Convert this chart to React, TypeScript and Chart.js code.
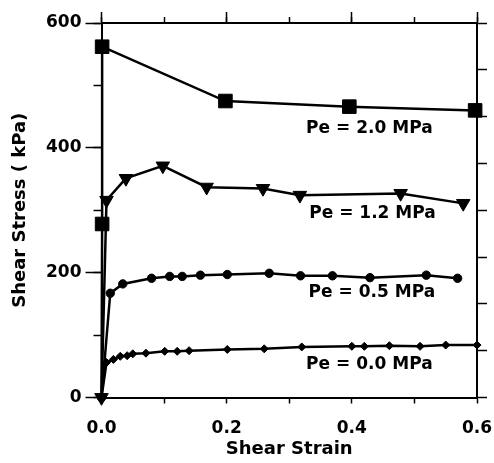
import React, { useEffect, useRef } from 'react';
import { Chart, registerables } from 'chart.js';
Chart.register(...registerables);

// Pe = 2.0 MPa (squares)
const pe20Strain = [0, 0.001, 0.001, 0.198, 0.396, 0.597];
const pe20Stress = [0, 278, 562, 475, 466, 460];
// Pe = 1.2 MPa (down triangles)
const pe12Strain = [0, 0.008, 0.039, 0.098, 0.168, 0.258, 0.317, 0.478, 0.578];
const pe12Stress = [0, 316, 351, 371, 337, 335, 324, 327, 311];
// Pe = 0.5 MPa (circles)
const pe05Strain = [0, 0.014, 0.034, 0.08, 0.109, 0.129, 0.158, 0.201, 0.268, 0.318, 0.369, 0.429, 0.519, 0.569];
const pe05Stress = [0, 167, 182, 191, 194, 194, 196, 197, 199, 195, 195, 192, 196, 191];
// Pe = 0.0 MPa (diamonds)
const pe00Strain = [0, 0.008, 0.019, 0.03, 0.041, 0.05, 0.071, 0.101, 0.121, 0.14, 0.201, 0.26, 0.32, 0.4, 0.42, 0.46, 0.509, 0.55, 0.6];
const pe00Stress = [0, 56, 61, 66, 67, 70, 71, 74, 74, 75, 77, 78, 81, 82, 82, 83, 82, 84, 84];

const seriesLabels = ['Pe = 2.0 MPa', 'Pe = 1.2 MPa', 'Pe = 0.5 MPa', 'Pe = 0.0 MPa'];
const labelStrain = [0.428, 0.433, 0.432, 0.428];
const labelStress = [431, 295, 168, 52];

const xTitle = 'Shear Strain';
const yTitle = 'Shear Stress ( kPa)';

const FONT = '"DejaVu Sans"';

export default function App() {
  const ref = useRef<HTMLCanvasElement>(null);
  useEffect(() => {
    document.body.style.margin = '0';
    const canvas = ref.current!;
    const mk = (xs: number[], ys: number[]) => xs.map((x, i) => ({ x, y: ys[i] }));
    const noPad = (s: any) => { s.paddingLeft = 0; s.paddingRight = 0; s.paddingTop = 0; s.paddingBottom = 0; };
    const labelPlugin = {
      id: 'peLabels',
      afterDatasetsDraw(chart: any) {
        const c = chart.ctx;
        const xs = chart.scales.x;
        const ys = chart.scales.y;
        c.save();
        c.font = `bold 17px ${FONT}`;
        c.fillStyle = '#000';
        c.textAlign = 'center';
        c.textBaseline = 'middle';
        seriesLabels.forEach((t, i) => {
          c.fillText(t, xs.getPixelForValue(labelStrain[i]), ys.getPixelForValue(labelStress[i]));
        });
        c.restore();
      },
    };
    const base = {
      showLine: true,
      borderColor: '#000',
      backgroundColor: '#000',
      pointBackgroundColor: '#000',
      pointBorderColor: '#000',
      borderWidth: 2.5,
      pointBorderWidth: 1,
      clip: false as any,
      xAxisID: 'x',
      yAxisID: 'y',
    };
    const border = { display: true, color: '#000', width: 2 };
    const chart = new Chart(canvas, {
      type: 'scatter',
      data: {
        datasets: [
          { ...base, data: mk(pe20Strain, pe20Stress), pointStyle: 'rect', pointRadius: (c: any) => (c.dataIndex === 0 ? 0 : 9.6) },
          { ...base, data: mk(pe12Strain, pe12Stress), pointStyle: 'triangle', rotation: 180, pointRadius: 7.8 },
          { ...base, data: mk(pe05Strain, pe05Stress), pointStyle: 'circle', pointRadius: 4.2 },
          { ...base, data: mk(pe00Strain, pe00Stress), pointStyle: 'rectRot', pointRadius: 4 },
        ] as any,
      },
      options: {
        animation: false,
        responsive: false,
        devicePixelRatio: 1,
        layout: { padding: 0 },
        plugins: { legend: { display: false }, tooltip: { enabled: false } },
        scales: {
          x: {
            type: 'linear', position: 'bottom', min: 0, max: 0.6,
            border,
            grid: { drawOnChartArea: false, drawTicks: true, tickLength: 6, color: '#000', tickWidth: 1.5 },
            ticks: {
              stepSize: 0.1, autoSkip: false, maxRotation: 0, padding: 15, color: '#000',
              font: { family: FONT, size: 17, weight: 'bold' },
              callback: (v: any) => (Math.round(Number(v) * 10) % 2 === 0 ? Number(v).toFixed(1) : ''),
            },
            title: { display: true, text: xTitle, color: '#000', font: { family: FONT, size: 18, weight: 'bold' }, padding: { top: 0, bottom: 3 } },
            afterFit: (s: any) => { s.height = 65.5; noPad(s); },
          },
          xTop: {
            type: 'linear', position: 'top', min: 0, max: 0.6, weight: 1,
            border,
            grid: { drawOnChartArea: false, drawTicks: true, tickLength: 11, color: '#000', tickWidth: 1.5 },
            ticks: { stepSize: 0.2, display: false },
            afterFit: (s: any) => { s.height = 23; noPad(s); },
          },
          xTopMinor: {
            type: 'linear', position: 'top', min: 0, max: 0.6, weight: 0,
            border,
            grid: { drawOnChartArea: false, drawTicks: true, tickLength: 6, color: '#000', tickWidth: 1.5 },
            ticks: { stepSize: 0.1, display: false },
            afterFit: (s: any) => { s.height = 0; noPad(s); },
          },
          y: {
            type: 'linear', position: 'left', min: 0, max: 600, weight: 1,
            border,
            grid: { drawOnChartArea: false, drawTicks: true, tickLength: 16, color: '#000', tickWidth: 1.5 },
            ticks: { stepSize: 200, padding: 4, color: '#000', font: { family: FONT, size: 17, weight: 'bold' } },
            title: { display: true, text: yTitle, color: '#000', font: { family: FONT, size: 18, weight: 'bold' }, padding: { top: 10, bottom: 0 } },
            afterFit: (s: any) => { s.width = 101.5; noPad(s); },
          },
          yMinor: {
            type: 'linear', position: 'left', min: 0, max: 600, weight: 0,
            border,
            grid: { drawOnChartArea: false, drawTicks: true, tickLength: 8, color: '#000', tickWidth: 1.5 },
            ticks: { stepSize: 100, display: false },
            afterFit: (s: any) => { s.width = 0; noPad(s); },
          },
          yRight: {
            type: 'linear', position: 'right', min: 0, max: 8,
            border,
            grid: { drawOnChartArea: false, drawTicks: true, tickLength: 10, color: '#000', tickWidth: 1.5 },
            ticks: { stepSize: 1, display: false },
            afterFit: (s: any) => { s.width = 17; noPad(s); },
          },
        } as any,
      },
      plugins: [labelPlugin],
    });
    return () => chart.destroy();
  }, []);
  return <canvas ref={ref} width={494} height={463} style={{ display: 'block' }} />;
}
